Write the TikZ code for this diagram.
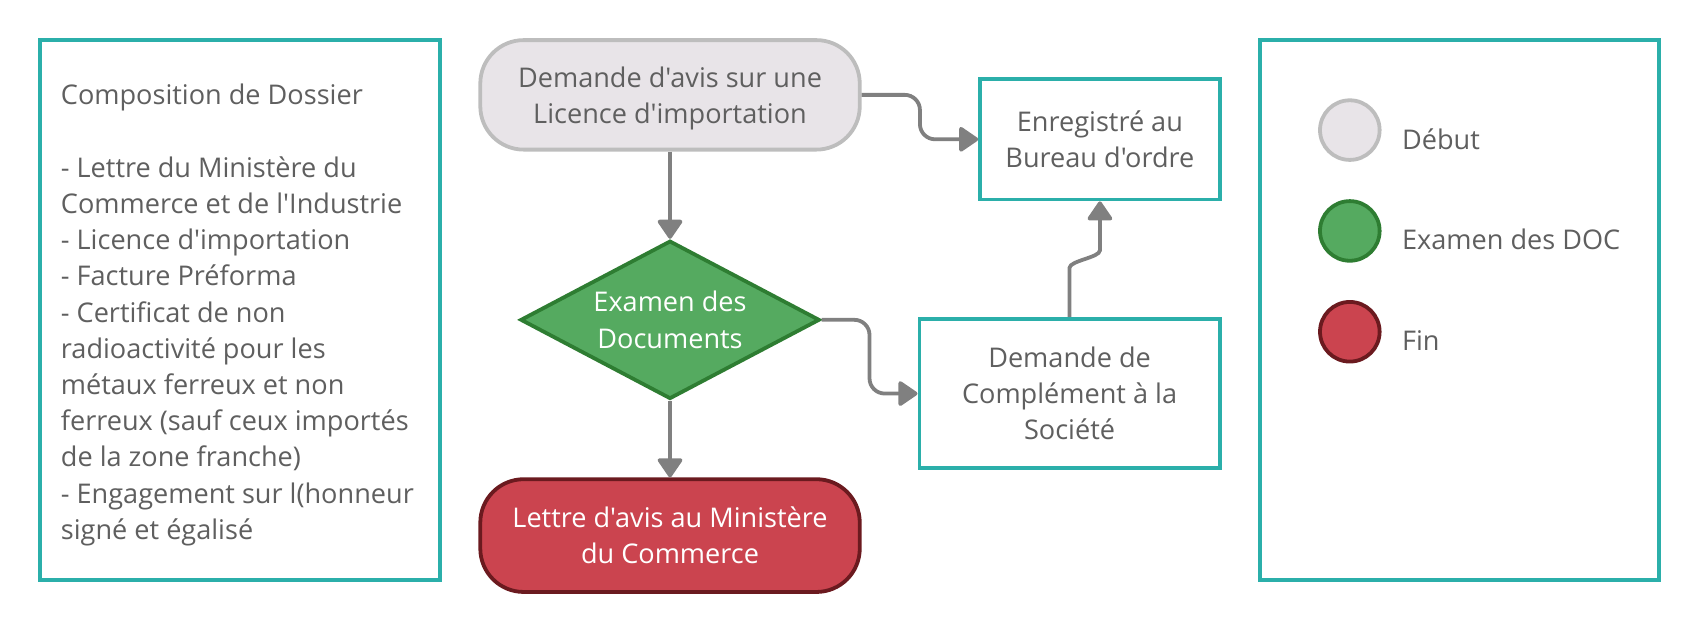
\documentclass[tikz,border=0pt]{standalone}
\usepackage{fontspec}
\setmainfont{Open Sans}[Ligatures=TeXOff]
\usetikzlibrary{shapes.geometric,arrows.meta,calc}
\definecolor{teal1}{HTML}{2BAFAA}
\definecolor{txt}{HTML}{5F5F5F}
\definecolor{startfill}{HTML}{E8E4E8}
\definecolor{startdraw}{HTML}{BDBDBD}
\definecolor{greenfill}{HTML}{55AA60}
\definecolor{greendraw}{HTML}{2E7D32}
\definecolor{redfill}{HTML}{CB444F}
\definecolor{reddraw}{HTML}{6B1A1F}
\definecolor{conncol}{HTML}{808080}
\tikzset{
  x=1bp, y=-1bp,
  every node/.style={font=\fontsize{25bp}{33.4bp}\selectfont, text=txt, inner sep=0pt},
  panel/.style={draw=teal1, line width=3.5bp, fill=white, minimum width=369bp, minimum height=498bp},
  tealbox/.style={draw=teal1, line width=3.5bp, fill=white, align=center},
  startnode/.style={draw=startdraw, fill=startfill, line width=3.5bp, rounded corners=40bp, align=center, minimum width=350bp, minimum height=101bp},
  endnode/.style={draw=reddraw, fill=redfill, line width=3.5bp, rounded corners=40bp, align=center, minimum width=350bp, minimum height=104bp, text=white},
  decision/.style={diamond, aspect=1.89, draw=greendraw, fill=greenfill, line width=3.5bp, align=center, minimum width=276bp, minimum height=146bp, text=white},
  legdot/.style={circle, line width=3.5bp, minimum size=55bp},
  conn/.style={draw=conncol, line width=3.5bp, rounded corners=14bp, -{Triangle[length=19bp,width=25bp,round]}},
}
\begin{document}
\begin{tikzpicture}
\useasboundingbox (0,0) rectangle (1568,583);
% panels
\node[panel] (leftpanel) at (221.5,286) {};
\node[panel, minimum width=368bp] (rightpanel) at (1346,286) {};
\node[anchor=north west, align=left] (dossier) at (56,77.5) {Composition de Dossier\\[33.4bp]
- Lettre du Ministère du\\
Commerce et de l'Industrie\\
- Licence d'importation\\
- Facture Préforma\\
- Certificat de non\\
radioactivité pour les\\
métaux ferreux et non\\
ferreux (sauf ceux importés\\
de la zone franche)\\
- Engagement sur l(honneur\\
signé et égalisé};
% flow nodes
\node[startnode] (start) at (618,87.5) {\rule{0pt}{26bp}Demande d'avis sur une\\Licence d'importation};
\node[tealbox, minimum width=221bp, minimum height=111bp] (enr) at (1014.5,128.5) {Enregistré au\\Bureau d'ordre};
\node[decision] (exam) at (618,295) {Examen des\\Documents};
\node[tealbox, minimum width=277bp, minimum height=138bp] (comp) at (986.5,363) {Demande de\\Complément à la\\Société};
\node[endnode] (fin) at (618,494) {Lettre d'avis au Ministère\\du Commerce};
% connectors
\coordinate (m1) at ($(start.east)!0.5!(enr.west)$);
\coordinate (m2) at ($(exam.east)!0.5!(comp.west)$);
\coordinate (m3) at ($(comp.north)!0.5!(enr.south)$);
\draw[conn] (start.south) -- (exam.north);
\draw[conn] (exam.south) -- (fin.north);
\draw[conn] (start.east) -- (m1 |- start.east) -- (m1 |- enr.west) -- (enr.west);
\draw[conn] (exam.east) -- (m2 |- exam.east) -- (m2 |- comp.west) -- (comp.west);
\draw[conn] (comp.north) -- ($(comp.north |- m3)+(0,22)$) to[out=90,in=-90] ($(enr.south |- m3)+(0,-22)$) -- (enr.south);
% legend
\node[legdot, draw=startdraw, fill=startfill] (ldebut) at (1245,120) {};
\node[legdot, draw=greendraw, fill=greenfill] (lexam) at (1245,213) {};
\node[legdot, draw=reddraw, fill=redfill] (lfin) at (1245,306) {};
\node[anchor=west] (tdebut) at (1293,128) {Début};
\node[anchor=west] (texam) at (1293,221) {Examen des DOC};
\node[anchor=west] (tfin) at (1293,314) {Fin};
\end{tikzpicture}
\end{document}
